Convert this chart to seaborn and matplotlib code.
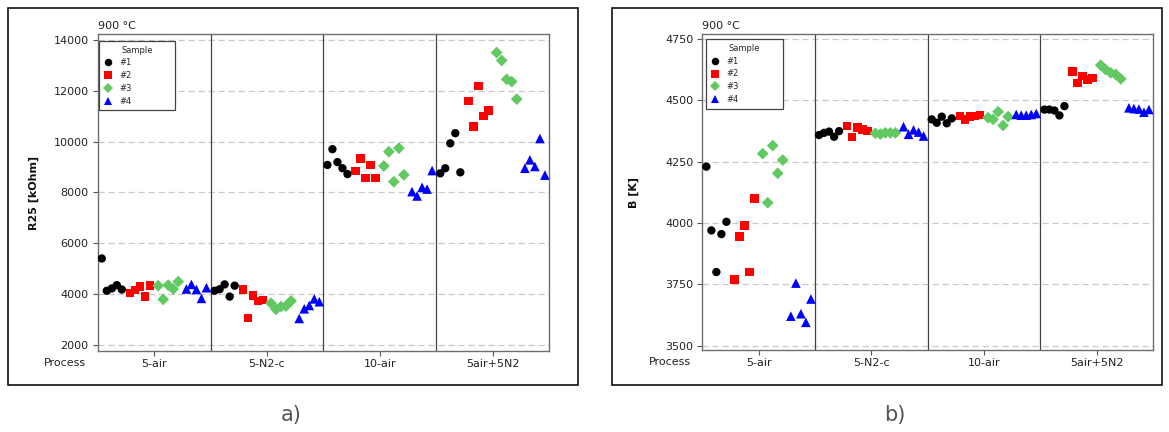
import numpy as np
import pandas as pd
import matplotlib
matplotlib.use("Agg")
import matplotlib.pyplot as plt
from matplotlib.patches import Rectangle
import seaborn as sns

# Firing processes (x categories) and samples (series)
processes = ["5-air", "5-N2-c", "10-air", "5air+5N2"]
samples = ["#1", "#2", "#3", "#4"]
runs_per_process = 5

# R25 [kOhm]: five measurements per process, processes in the order above
r25_s1 = [5400, 4130, 4220, 4350, 4180,  4130, 4190, 4380, 3900, 4330,
          9080, 9700, 9190, 8950, 8720,  8750, 8950, 9930, 10330, 8790]
r25_s2 = [4050, 4160, 4290, 3900, 4330,  4180, 3050, 3950, 3730, 3770,
          8840, 9340, 8560, 9080, 8560,  11600, 10590, 12190, 11010, 11220]
r25_s3 = [4330, 3790, 4350, 4200, 4490,  3640, 3400, 3510, 3530, 3730,
          9040, 9600, 8420, 9740, 8690,  13500, 13190, 12450, 12360, 11670]
r25_s4 = [4200, 4380, 4180, 3830, 4250,  3040, 3420, 3550, 3810, 3700,
          8030, 7860, 8200, 8130, 8860,  8950, 9280, 9020, 10120, 8680]

# B constant [K]
b_s1 = [4230, 3970, 3800, 3955, 4005,  4359, 4368, 4373, 4352, 4375,
        4423, 4409, 4434, 4407, 4427,  4463, 4463, 4459, 4439, 4477]
b_s2 = [3770, 3945, 3990, 3800, 4100,  4396, 4351, 4390, 4382, 4375,
        4436, 4423, 4434, 4436, 4440,  4619, 4572, 4600, 4585, 4592]
b_s3 = [4283, 4083, 4316, 4203, 4257,  4366, 4363, 4368, 4368, 4368,
        4430, 4423, 4454, 4398, 4434,  4644, 4626, 4613, 4606, 4588]
b_s4 = [3620, 3755, 3630, 3595, 3690,  4393, 4362, 4380, 4371, 4355,
        4443, 4440, 4440, 4443, 4447,  4470, 4467, 4465, 4452, 4463]

r25_ticks = [2000, 4000, 6000, 8000, 10000, 12000, 14000]
b_ticks = [3500, 3750, 4000, 4250, 4500, 4750]

palette = {"#1": "#000000", "#2": "#ff0000", "#3": "#62c962", "#4": "#0000ff"}
markers = {"#1": "o", "#2": "s", "#3": "D", "#4": "^"}
marker_sizes = {"#1": 36, "#2": 38, "#3": 36, "#4": 48}

# Long table: each process occupies 4 x-units, one unit per sample,
# the five runs of a sample spread inside its unit.
rows = []
r25_all = [r25_s1, r25_s2, r25_s3, r25_s4]
b_all = [b_s1, b_s2, b_s3, b_s4]
for si, s in enumerate(samples):
    for gi, p in enumerate(processes):
        for k in range(runs_per_process):
            i = gi * runs_per_process + k
            rows.append({
                "Process": p, "Sample": s, "Run": k + 1,
                "R25": r25_all[si][i], "B": b_all[si][i],
                "pos": 4 * gi + si + 0.5 + (k - 2) * 0.178,
            })
df = pd.DataFrame(rows)

sns.set_style("white")
plt.rcParams["font.family"] = ["DejaVu Sans"]

W, H = 1169, 432
fig = plt.figure(figsize=(W / 100, H / 100), dpi=100)


def px_axes(x0, x1, y0, y1):
    return fig.add_axes([x0 / W, 1 - y1 / H, (x1 - x0) / W, (y1 - y0) / H])


def draw_panel(ax, col, ylim, yticks, ylabel, label_x, leg_box):
    sns.scatterplot(data=df, x="pos", y=col, hue="Sample", style="Sample",
                    size="Sample", sizes=marker_sizes, palette=palette,
                    markers=markers, linewidth=0, ax=ax, zorder=3)
    ax.set_xlim(0, 16)
    ax.set_ylim(*ylim)
    ax.set_yticks(yticks)
    ax.set_xticks([4 * g + 2 for g in range(len(processes))])
    ax.set_xticklabels(processes)
    ax.set_xlabel("")
    ax.set_ylabel(ylabel, fontsize=8, fontweight="bold", color="#111111")
    ax.yaxis.set_label_coords(label_x, 0.5)
    ax.tick_params(axis="both", direction="out", length=3.5, width=0.8,
                   color="#555555", labelsize=8, labelcolor="#222222")
    ax.tick_params(axis="y", pad=3, left=True)
    ax.tick_params(axis="x", pad=2.5, bottom=True)
    ax.yaxis.grid(True, linestyle=(0, (5, 3)), color="#c8c8c8", linewidth=0.9)
    ax.xaxis.grid(False)
    ax.set_axisbelow(True)
    for g in range(1, len(processes)):
        ax.axvline(4 * g, color="#444444", linewidth=0.9, zorder=2)
    for sp in ax.spines.values():
        sp.set_color("#6e6e6e")
        sp.set_linewidth(1.0)
        sp.set_visible(True)
    ax.text(0, 1.027, "900 °C", transform=ax.transAxes, ha="left",
            va="center", fontsize=8, color="#222222")
    ax.text(-0.026, -0.038, "Process", transform=ax.transAxes, ha="right",
            va="center", fontsize=8, color="#222222")
    handles, labels = ax.get_legend_handles_labels()
    leg = ax.legend(handles, labels, title="Sample", loc="upper left",
                    bbox_to_anchor=leg_box, mode="expand", fontsize=6,
                    title_fontsize=6, frameon=True, fancybox=False,
                    edgecolor="#444444", framealpha=1, borderpad=0.55,
                    labelspacing=0.45, handlelength=1.0, handletextpad=0.9,
                    borderaxespad=0, markerscale=0.9)
    leg.get_frame().set_linewidth(0.9)


ax_a = px_axes(97.7, 549, 34.3, 351)
draw_panel(ax_a, "R25", (1760, 14220), r25_ticks, "R25 [kOhm]", -0.131,
           (0.003, 0.979 - 0.23, 0.168, 0.23))

ax_b = px_axes(702.3, 1153, 34.3, 350)
draw_panel(ax_b, "B", (3482, 4770), b_ticks, "B [K]", -0.140,
           (0.008, 0.984 - 0.23, 0.172, 0.23))

# Panel frames and captions
for x0, x1 in [(8, 578), (612, 1162)]:
    fig.add_artist(Rectangle((x0 / W, 1 - 385 / H), (x1 - x0) / W, 377 / H,
                             transform=fig.transFigure, fill=False,
                             edgecolor="#111111", linewidth=1.2))
fig.text(291 / W, 1 - 415 / H, "a)", ha="center", va="center",
         fontsize=15, color="#555555")
fig.text(895 / W, 1 - 415 / H, "b)", ha="center", va="center",
         fontsize=15, color="#555555")

fig.savefig("out.png", dpi=100)
